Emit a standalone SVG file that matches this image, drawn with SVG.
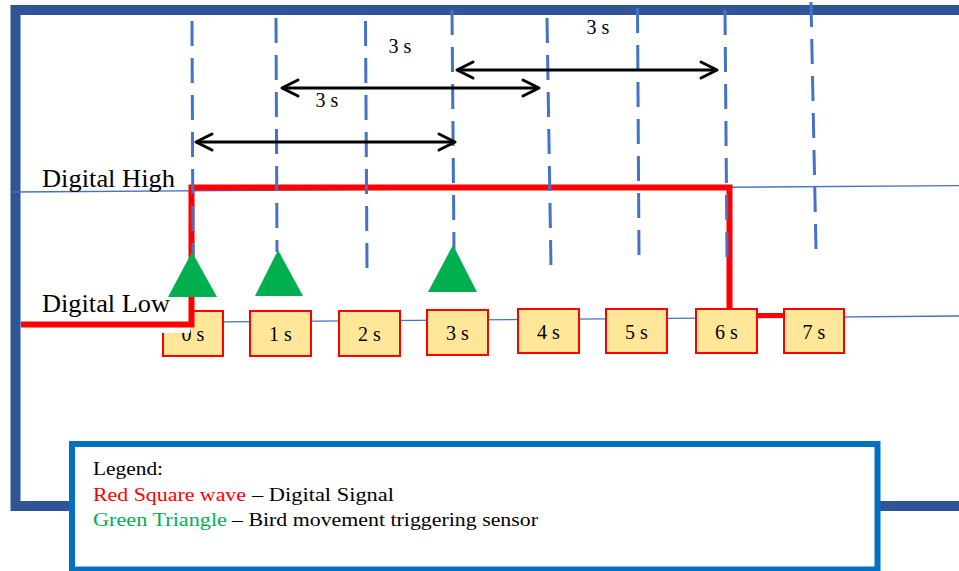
<svg xmlns="http://www.w3.org/2000/svg" width="959" height="571" viewBox="0 0 959 571">
<style>
.t{font-family:"Liberation Serif","Times New Roman",serif;fill:#000}
.box{fill:#FFE699;stroke:#FF0000;stroke-width:2}
.bl{font-family:"Liberation Serif","Times New Roman",serif;font-size:20px;text-anchor:middle;fill:#000}
.dash{stroke:#4472C4;stroke-width:3;stroke-dasharray:25 12;fill:none}
.thin{stroke:#4472C4;stroke-width:1.3;fill:none}
.tri{fill:#00B050}
.arr{stroke:#000;stroke-width:3;fill:none;marker-start:url(#ah);marker-end:url(#ah)}
.lg{font-family:"Liberation Serif","Times New Roman",serif;font-size:19.5px}
</style>
<defs>
<marker id="ah" markerUnits="userSpaceOnUse" markerWidth="24" markerHeight="24" viewBox="0 0 24 24" refX="20" refY="12" orient="auto-start-reverse">
<path d="M4,4 L20,12 L4,20" fill="none" stroke="#000" stroke-width="3" stroke-linejoin="round" stroke-linecap="round"/>
</marker>
</defs>
<rect width="959" height="571" fill="#fff"/>
<g id="frame"><rect x="15.5" y="10" width="970" height="496" fill="none" stroke="#2F5597" stroke-width="10"/></g>
<g id="levels">
<line class="thin" x1="13" y1="192" x2="959" y2="185.7"/>
<line class="thin" x1="20" y1="323.5" x2="959" y2="316"/>
</g>
<g id="ticks">
<g id="t0"><rect class="box" x="163" y="311" width="60" height="45"/><text class="bl" x="193" y="341">0 s</text></g>
<g id="t1"><rect class="box" x="250" y="311" width="61" height="45"/><text class="bl" x="280.5" y="341">1 s</text></g>
<g id="t2"><rect class="box" x="339" y="311" width="61" height="45"/><text class="bl" x="369.5" y="341">2 s</text></g>
<g id="t3"><rect class="box" x="427" y="310" width="61" height="45"/><text class="bl" x="457.5" y="340">3 s</text></g>
<g id="t4"><rect class="box" x="518" y="309" width="61" height="44"/><text class="bl" x="548.5" y="339">4 s</text></g>
<g id="t5"><rect class="box" x="606" y="309" width="61" height="44"/><text class="bl" x="636.5" y="339">5 s</text></g>
<g id="t6"><rect class="box" x="696" y="309" width="61" height="44"/><text class="bl" x="726.5" y="339">6 s</text></g>
<g id="t7"><rect class="box" x="784" y="309" width="60" height="44"/><text class="bl" x="814" y="339">7 s</text></g>
</g>
<g id="labels">
<text class="t" x="42" y="187" font-size="25" textLength="133" lengthAdjust="spacingAndGlyphs">Digital High</text>
<rect x="22" y="280" width="168" height="53" fill="#fff"/>
<text class="t" x="42" y="312" font-size="25" textLength="128" lengthAdjust="spacingAndGlyphs">Digital Low</text>
</g>
<g id="signal">
<path d="M21,324.5 L191.5,324.5 L191.5,187.5 L729.5,187.5 L729.5,309" fill="none" stroke="#FF0000" stroke-width="6"/>
<line x1="757" y1="315.5" x2="784" y2="315.5" stroke="#FF0000" stroke-width="5"/>
</g>
<g id="gridlines">
<line class="dash" x1="192" y1="21" x2="193" y2="255"/>
<line class="dash" x1="276" y1="18" x2="277" y2="252"/>
<line class="dash" x1="365.5" y1="21" x2="367" y2="268"/>
<line class="dash" x1="452" y1="10" x2="454" y2="250"/>
<line class="dash" x1="547" y1="18" x2="551" y2="267"/>
<line class="dash" x1="637.5" y1="8" x2="639" y2="257"/>
<line class="dash" x1="725" y1="10" x2="727" y2="257"/>
<line class="dash" x1="811" y1="2" x2="816" y2="249"/>
</g>
<g id="triggers">
<polygon class="tri" points="192,252 217,297 168,297"/>
<polygon class="tri" points="278,250 303,296 255,296"/>
<polygon class="tri" points="453,245 477,292 428,292"/>
</g>
<g id="connectors">
<line class="arr" x1="196" y1="142" x2="455" y2="142"/>
<line class="arr" x1="282" y1="88" x2="539" y2="88"/>
<line class="arr" x1="457" y1="70" x2="717" y2="70"/>
</g>
<g id="durations">
<text class="bl" x="400" y="53">3 s</text>
<text class="bl" x="327" y="107">3 s</text>
<text class="bl" x="598" y="34">3 s</text>
</g>
<g id="legend">
<rect x="72" y="444" width="805.5" height="125.5" fill="#fff" stroke="#0070C0" stroke-width="6"/>
<text class="lg" x="93" y="475" textLength="70" lengthAdjust="spacingAndGlyphs" fill="#000">Legend:</text>
<text class="lg" x="93" y="501" textLength="153" lengthAdjust="spacingAndGlyphs" fill="#FF0000">Red Square wave</text>
<text class="lg" x="252" y="501" textLength="142" lengthAdjust="spacingAndGlyphs" fill="#000">– Digital Signal</text>
<text class="lg" x="93" y="526" textLength="134" lengthAdjust="spacingAndGlyphs" fill="#00B050">Green Triangle</text>
<text class="lg" x="232" y="526" textLength="306" lengthAdjust="spacingAndGlyphs" fill="#000">– Bird movement triggering sensor</text>
</g>
</svg>
